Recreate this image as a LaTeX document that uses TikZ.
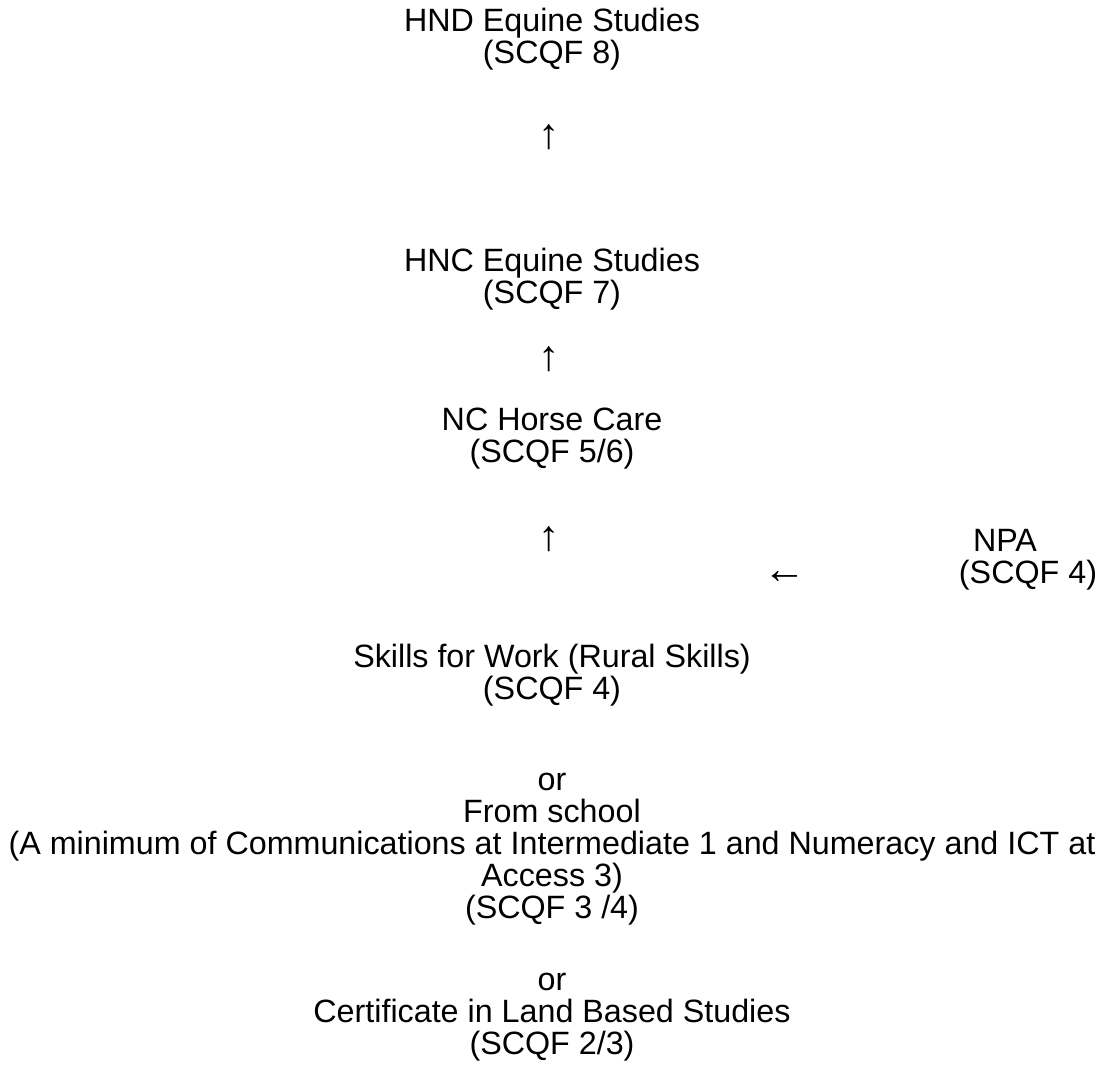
\documentclass[tikz,border=0pt]{standalone}
\usepackage{fontspec}
\setmainfont{Liberation Sans}
\begin{document}
\begin{tikzpicture}[x=0.75pt,y=-0.75pt]

      \useasboundingbox (0,0) rectangle (1104,1070);

      \begin{scope}[every node/.style={align=center,inner sep=0pt,
          font=\fontsize{24.2}{24}\selectfont}]
        \node (hnd)     at (552,39)   {HND Equine Studies\\(SCQF 8)};
        \node (hnc)     at (552,279)  {HNC Equine Studies\\(SCQF 7)};
        \node (nc)      at (552,439)  {NC Horse Care\\(SCQF 5/6)};
        \node (npa)     at (1005,540) {NPA};
        \node (npalvl)  at (1028,575) {(SCQF 4)};
        \node (sfw)     at (552,675)  {Skills for Work (Rural Skills)\\(SCQF 4)};
        \node (school)  at (552,849)  {or\\From school\\(A minimum of Communications at Intermediate 1 and Numeracy and ICT at\\Access 3)\\(SCQF 3 /4)};
        \node (cert)    at (552,1017) {or\\Certificate in Land Based Studies\\(SCQF 2/3)};
      \end{scope}

      \begin{scope}[every node/.style={inner sep=0pt,
          font=\fontsize{32}{32}\selectfont}]
        \node (up1)     at (549,137)  {↑};
        \node (up2)     at (549,359)  {↑};
        \node (up3)     at (549,539)  {↑};
        \node (left)    at (785,577)  {←};
      \end{scope}

    \end{tikzpicture}
\end{document}
